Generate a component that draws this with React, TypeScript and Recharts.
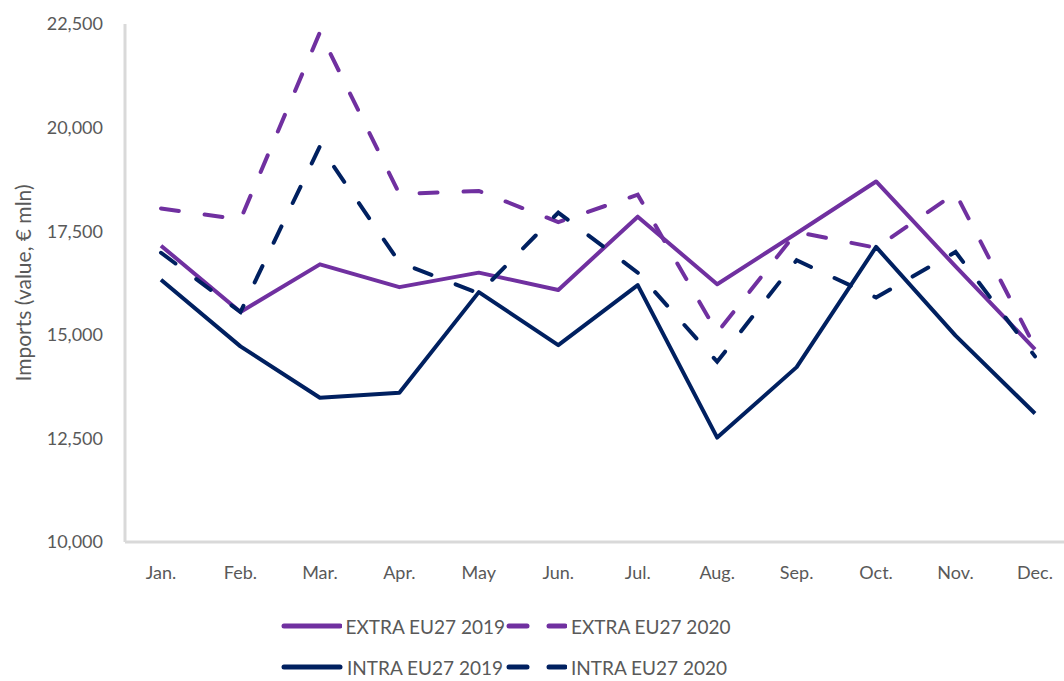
import React from 'react';
import { LineChart, Line, XAxis, YAxis } from 'recharts';

const months = ['Jan.', 'Feb.', 'Mar.', 'Apr.', 'May', 'Jun.', 'Jul.', 'Aug.', 'Sep.', 'Oct.', 'Nov.', 'Dec.'];
const extra2019 = [17150, 15550, 16700, 16150, 16500, 16080, 17850, 16220, 17450, 18700, 16650, 14650];
const extra2020 = [18050, 17780, 22300, 18400, 18470, 17720, 18380, 15050, 17480, 17100, 18420, 14700];
const intra2019 = [16330, 14720, 13480, 13600, 16030, 14750, 16200, 12520, 14220, 17120, 14980, 13100];
const intra2020 = [16980, 15550, 19550, 16750, 16000, 17950, 16500, 14350, 16800, 15900, 17000, 14480];
const yTicks = [10000, 12500, 15000, 17500, 20000, 22500];

const PURPLE = '#7030A0';
const NAVY = '#002060';
const GREY = '#595959';
const FONT = 'Lato, "Open Sans", sans-serif';

const data = months.map((m, i) => ({
  month: m,
  extra2019: extra2019[i],
  extra2020: extra2020[i],
  intra2019: intra2019[i],
  intra2020: intra2020[i],
}));

const YLabel = () => (
  <text
    x={22}
    y={283}
    transform="rotate(-90 22 283)"
    textAnchor="middle"
    dominantBaseline="central"
    fill={GREY}
    fontSize={21}
    fontFamily={FONT}
  >
    Imports (value, € mln)
  </text>
);

// legend swatch: solid or dashed
const Swatch = ({ color, dashed }: { color: string; dashed?: boolean }) => (
  <svg width={62} height={10} style={{ display: 'block' }}>
    {dashed ? (
      <>
        <line x1={4} y1={5} x2={22} y2={5} stroke={color} strokeWidth={5} strokeLinecap="round" />
        <line x1={44} y1={5} x2={60} y2={5} stroke={color} strokeWidth={5} strokeLinecap="round" />
      </>
    ) : (
      <line x1={3} y1={5} x2={59} y2={5} stroke={color} strokeWidth={5} strokeLinecap="round" />
    )}
  </svg>
);

const legendRows = [
  [
    { label: 'EXTRA EU27 2019', color: PURPLE, dashed: false },
    { label: 'EXTRA EU27 2020', color: PURPLE, dashed: true },
  ],
  [
    { label: 'INTRA EU27 2019', color: NAVY, dashed: false },
    { label: 'INTRA EU27 2020', color: NAVY, dashed: true },
  ],
];

export default function App() {
  return (
    <div style={{ position: 'absolute', left: 0, top: 0, width: 1064, height: 681, background: '#fff', overflow: 'hidden' }}>
      <LineChart width={1064} height={600} data={data} margin={{ top: 24, right: 0, left: 0, bottom: 18 }}>
        <XAxis
          dataKey="month"
          padding={{ left: 36, right: 29 }}
          axisLine={{ stroke: '#D9D9D9', strokeWidth: 3 }}
          tickLine={false}
          tickMargin={18}
          height={40}
          tick={{ fill: GREY, fontSize: 18, fontFamily: FONT }}
          interval={0}
        />
        <YAxis
          width={125}
          domain={[10000, 22500]}
          ticks={yTicks}
          interval={0}
          axisLine={{ stroke: '#D9D9D9', strokeWidth: 3 }}
          tickLine={false}
          tickMargin={16}
          tickFormatter={(v: number) => v.toLocaleString('en-US')}
          tick={{ fill: GREY, fontSize: 18, fontFamily: FONT }}
          label={<YLabel />}
        />
        <Line dataKey="extra2019" stroke={PURPLE} strokeWidth={4} dot={false} isAnimationActive={false} strokeLinejoin="round" />
        <Line dataKey="extra2020" stroke={PURPLE} strokeWidth={4} dot={false} isAnimationActive={false} strokeDasharray="18 26" strokeLinecap="round" />
        <Line dataKey="intra2019" stroke={NAVY} strokeWidth={4} dot={false} isAnimationActive={false} strokeLinejoin="round" />
        <Line dataKey="intra2020" stroke={NAVY} strokeWidth={4} dot={false} isAnimationActive={false} strokeDasharray="18 26" strokeLinecap="round" />
      </LineChart>
      <div style={{ position: 'absolute', left: 281, top: 612, fontFamily: FONT, fontSize: 19, color: GREY }}>
        {legendRows.map((row, r) => (
          <div key={r} style={{ display: 'flex', alignItems: 'center', height: 28, marginBottom: r === 0 ? 13 : 0 }}>
            {row.map((item, k) => (
              <div key={k} style={{ display: 'flex', alignItems: 'center', width: k === 0 ? 224 : 'auto' }}>
                <Swatch color={item.color} dashed={item.dashed} />
                <span style={{ marginLeft: 4, whiteSpace: 'nowrap' }}>{item.label}</span>
              </div>
            ))}
          </div>
        ))}
      </div>
    </div>
  );
}
